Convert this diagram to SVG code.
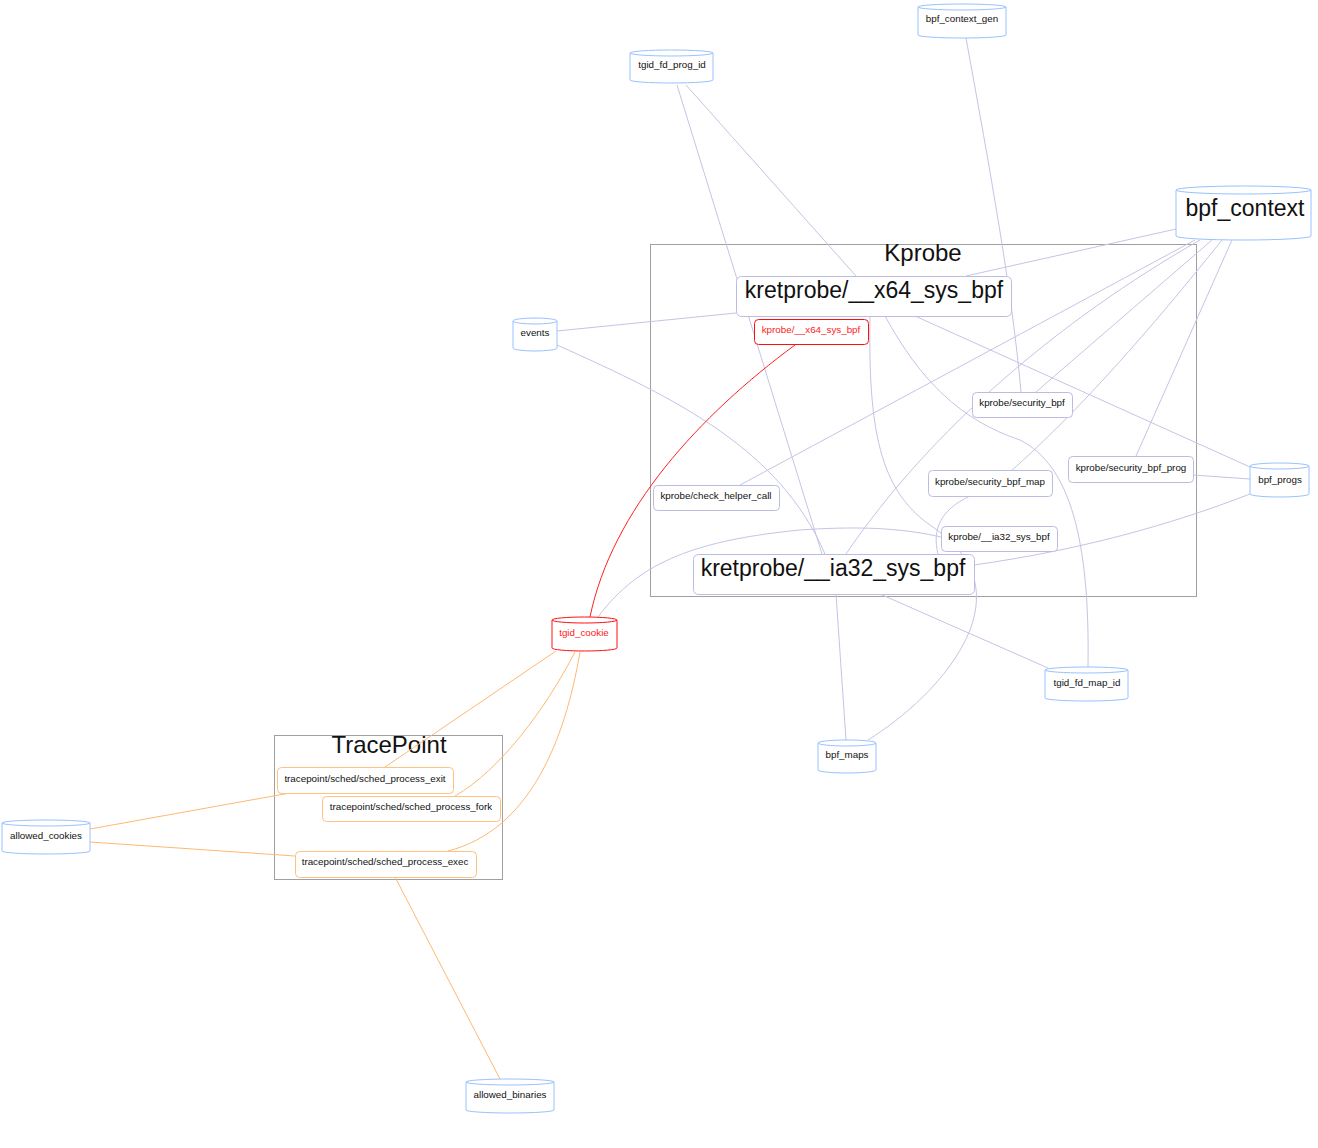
<svg xmlns="http://www.w3.org/2000/svg" width="1318" height="1148" viewBox="0 0 1318 1148">
<style>
text{font-family:"Liberation Sans",Arial,sans-serif;text-anchor:middle;dominant-baseline:central;fill:#111}
.s{font-size:9.8px}
.l{font-size:23px}
.cl{fill:none;stroke:#a0a0a0;stroke-width:1}
.cy{fill:#fff;stroke:#99c0ff;stroke-width:1}
.kp{fill:#fff;stroke:#bcbce0;stroke-width:1}
.red{fill:#fff;stroke:#ff1010;stroke-width:1}
.tp{fill:#fff;stroke:#ffc080;stroke-width:1}
.e{fill:none;stroke:#c4c4e6;stroke-width:1}
.eo{fill:none;stroke:#ffb870;stroke-width:1}
.er{fill:none;stroke:#ff2020;stroke-width:1}
</style>
<rect width="1318" height="1148" fill="#fff"/>
<g id="clusters">
<g id="cluster-kprobe"><rect class="cl" x="650.5" y="244.5" width="546" height="352"/><text x="923" y="252" style="font-size:24px">Kprobe</text></g>
<g id="cluster-tracepoint"><rect class="cl" x="274.5" y="735.5" width="228" height="144"/><text x="389" y="744" style="font-size:24px">TracePoint</text></g>
</g>
<g id="edges">
<path class="e" d="M686,85 L856,276"/>
<path class="e" d="M677,85 L822,554"/>
<path class="e" d="M966,38 C990,170 1012,290 1021,392"/>
<path class="e" d="M1176,229 L966,276"/>
<path class="e" d="M1195,240 L740,485"/>
<path class="e" d="M1212,240 L1036,392"/>
<path class="e" d="M1222,240 C1150,330 1080,410 1010,472"/>
<path class="e" d="M1232,240 L1136,456"/>
<path class="e" d="M1200,240 C1060,320 930,430 846,554"/>
<path class="e" d="M557,331 L736,313"/>
<path class="e" d="M557,345 C680,400 780,450 825,554"/>
<path class="e" d="M870,316 C868,430 880,490 930,525 C975,555 985,590 970,630 C950,680 900,720 868,740"/>
<path class="e" d="M885,316 C920,380 960,420 1020,440 C1070,465 1090,540 1088,667"/>
<path class="e" d="M915,316 L1250,467"/>
<path class="e" d="M1193,475 L1250,479"/>
<path class="e" d="M974,565 C1080,550 1170,525 1250,494"/>
<path class="e" d="M880,594 L1048,668"/>
<path class="e" d="M836,594 L846,740"/>
<path class="e" d="M598,617 C640,560 700,540 800,530 C870,525 910,530 941,537"/>
<path class="e" d="M970,496 C940,510 932,530 938,554"/>
<path class="er" d="M795,345 C700,415 612,510 590,617"/>
<path class="eo" d="M556,651 L385,767"/>
<path class="eo" d="M575,652 C545,710 500,770 455,796"/>
<path class="eo" d="M580,652 C565,740 530,830 448,851"/>
<path class="eo" d="M90,829 L290,793"/>
<path class="eo" d="M90,842 L295,856"/>
<path class="eo" d="M395,877 L500,1079"/>
</g>
<g id="node-bpf_context_gen"><path class="cy" d="M918,7 A44,3 0 0 1 1006,7 A44,3 0 0 1 918,7 V35 A44,3 0 0 0 1006,35 V7"/><text class="s" x="962" y="18">bpf_context_gen</text></g>
<g id="node-tgid_fd_prog_id"><path class="cy" d="M630,53 A41.5,3 0 0 1 713,53 A41.5,3 0 0 1 630,53 V80 A41.5,3 0 0 0 713,80 V53"/><text class="s" x="672" y="64">tgid_fd_prog_id</text></g>
<g id="node-bpf_context"><path class="cy" d="M1176,190 A67.5,4 0 0 1 1311,190 A67.5,4 0 0 1 1176,190 V236 A67.5,4 0 0 0 1311,236 V190"/><text class="l" x="1245" y="208">bpf_context</text></g>
<g id="node-events"><path class="cy" d="M513,321 A22,3 0 0 1 557,321 A22,3 0 0 1 513,321 V348 A22,3 0 0 0 557,348 V321"/><text class="s" x="535" y="332">events</text></g>
<g id="node-bpf_progs"><path class="cy" d="M1250,466 A29.5,3 0 0 1 1309,466 A29.5,3 0 0 1 1250,466 V494 A29.5,3 0 0 0 1309,494 V466"/><text class="s" x="1280" y="479">bpf_progs</text></g>
<g id="node-tgid_cookie"><path class="red" d="M552,620 A32.5,3 0 0 1 617,620 A32.5,3 0 0 1 552,620 V648 A32.5,3 0 0 0 617,648 V620"/><text class="s" x="584" y="632" style="fill:#ff2020">tgid_cookie</text></g>
<g id="node-tgid_fd_map_id"><path class="cy" d="M1045,670 A41.5,3 0 0 1 1128,670 A41.5,3 0 0 1 1045,670 V698 A41.5,3 0 0 0 1128,698 V670"/><text class="s" x="1087" y="682">tgid_fd_map_id</text></g>
<g id="node-bpf_maps"><path class="cy" d="M818,743 A29,3 0 0 1 876,743 A29,3 0 0 1 818,743 V770 A29,3 0 0 0 876,770 V743"/><text class="s" x="847" y="754">bpf_maps</text></g>
<g id="node-allowed_cookies"><path class="cy" d="M2,823 A44,3 0 0 1 90,823 A44,3 0 0 1 2,823 V851 A44,3 0 0 0 90,851 V823"/><text class="s" x="46" y="835">allowed_cookies</text></g>
<g id="node-allowed_binaries"><path class="cy" d="M466,1082 A44,3 0 0 1 554,1082 A44,3 0 0 1 466,1082 V1110 A44,3 0 0 0 554,1110 V1082"/><text class="s" x="510" y="1094">allowed_binaries</text></g>
<g id="node-kretprobe-x64"><rect class="kp" x="736.5" y="276.5" width="275" height="40" rx="5"/><text class="l" x="874" y="290">kretprobe/__x64_sys_bpf</text></g>
<g id="node-kprobe-x64"><rect class="red" x="754.5" y="319.5" width="114" height="25" rx="4"/><text class="s" x="811" y="329" style="fill:#ff2020">kprobe/__x64_sys_bpf</text></g>
<g id="node-kprobe-security_bpf"><rect class="kp" x="972.5" y="392.5" width="100" height="25" rx="4"/><text class="s" x="1022" y="402">kprobe/security_bpf</text></g>
<g id="node-kprobe-security_bpf_prog"><rect class="kp" x="1068.5" y="456.5" width="125" height="26" rx="4"/><text class="s" x="1131" y="467">kprobe/security_bpf_prog</text></g>
<g id="node-kprobe-security_bpf_map"><rect class="kp" x="928.5" y="470.5" width="124" height="26" rx="4"/><text class="s" x="990" y="481">kprobe/security_bpf_map</text></g>
<g id="node-kprobe-check_helper_call"><rect class="kp" x="653.5" y="485.5" width="126" height="25" rx="4"/><text class="s" x="716" y="495">kprobe/check_helper_call</text></g>
<g id="node-kprobe-ia32"><rect class="kp" x="941.5" y="526.5" width="116" height="25" rx="4"/><text class="s" x="999" y="536">kprobe/__ia32_sys_bpf</text></g>
<g id="node-kretprobe-ia32"><rect class="kp" x="693.5" y="554.5" width="281" height="40" rx="5"/><text class="l" x="833" y="568">kretprobe/__ia32_sys_bpf</text></g>
<g id="node-tp-exit"><rect class="tp" x="277.5" y="767.5" width="176" height="26" rx="4"/><text class="s" x="365" y="778">tracepoint/sched/sched_process_exit</text></g>
<g id="node-tp-fork"><rect class="tp" x="322.5" y="796.5" width="178" height="25" rx="4"/><text class="s" x="411" y="806">tracepoint/sched/sched_process_fork</text></g>
<g id="node-tp-exec"><rect class="tp" x="295.5" y="851.5" width="181" height="26" rx="4"/><text class="s" x="385" y="861">tracepoint/sched/sched_process_exec</text></g>
</svg>
